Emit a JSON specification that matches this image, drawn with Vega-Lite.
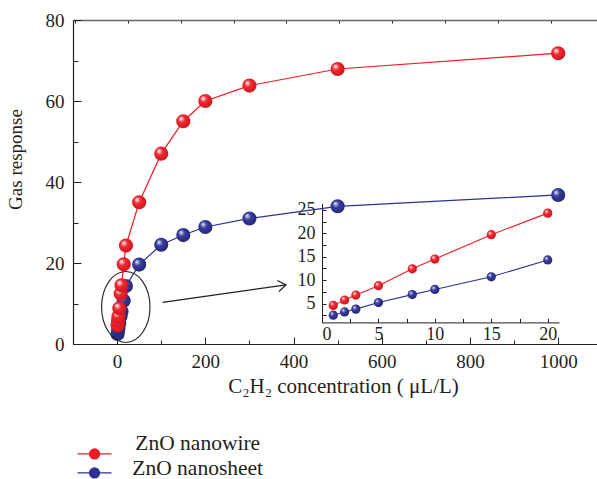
{
  "$schema": "https://vega.github.io/schema/vega-lite/v6.json",
  "width": 524,
  "height": 324,
  "autosize": {"type": "none"},
  "padding": {"left": 73, "top": 20, "right": 0, "bottom": 135},
  "background": "white",
  "datasets": {
    "pts": [
      {"series": "ZnO nanowire", "x": 1, "y": 4.6},
      {"series": "ZnO nanowire", "x": 2, "y": 5.75},
      {"series": "ZnO nanowire", "x": 3, "y": 6.8},
      {"series": "ZnO nanowire", "x": 5, "y": 8.8},
      {"series": "ZnO nanowire", "x": 8, "y": 12.4},
      {"series": "ZnO nanowire", "x": 10, "y": 14.5},
      {"series": "ZnO nanowire", "x": 15, "y": 19.7},
      {"series": "ZnO nanowire", "x": 20, "y": 24.3},
      {"series": "ZnO nanowire", "x": 50, "y": 35},
      {"series": "ZnO nanowire", "x": 100, "y": 47},
      {"series": "ZnO nanowire", "x": 150, "y": 55},
      {"series": "ZnO nanowire", "x": 200, "y": 60},
      {"series": "ZnO nanowire", "x": 300, "y": 63.8},
      {"series": "ZnO nanowire", "x": 500, "y": 67.9},
      {"series": "ZnO nanowire", "x": 1000, "y": 71.8},
      {"series": "ZnO nanosheet", "x": 1, "y": 2.5},
      {"series": "ZnO nanosheet", "x": 2, "y": 3.2},
      {"series": "ZnO nanosheet", "x": 3, "y": 3.8},
      {"series": "ZnO nanosheet", "x": 5, "y": 5.2},
      {"series": "ZnO nanosheet", "x": 8, "y": 6.9},
      {"series": "ZnO nanosheet", "x": 10, "y": 8.0},
      {"series": "ZnO nanosheet", "x": 15, "y": 10.7},
      {"series": "ZnO nanosheet", "x": 20, "y": 14.3},
      {"series": "ZnO nanosheet", "x": 50, "y": 19.6},
      {"series": "ZnO nanosheet", "x": 100, "y": 24.5},
      {"series": "ZnO nanosheet", "x": 150, "y": 26.9},
      {"series": "ZnO nanosheet", "x": 200, "y": 28.9},
      {"series": "ZnO nanosheet", "x": 300, "y": 31.0},
      {"series": "ZnO nanosheet", "x": 500, "y": 34.0},
      {"series": "ZnO nanosheet", "x": 1000, "y": 36.8}
    ]
  },
  "config": {
    "view": {"stroke": null},
    "font": "Liberation Serif",
    "axis": {
      "grid": false,
      "labelFont": "Liberation Serif",
      "titleFont": "Liberation Serif",
      "labelColor": "#231f20",
      "titleColor": "#231f20",
      "titleFontWeight": "normal",
      "domainColor": "#231f20",
      "tickColor": "#231f20",
      "labelFontSize": 19,
      "titleFontSize": 21,
      "domainWidth": 1.2,
      "tickWidth": 1
    },
    "legend": {"labelFont": "Liberation Serif", "labelFontSize": 21.5, "labelColor": "#231f20", "title": null, "padding": 0}
  },
  "resolve": {"scale": {"x": "independent", "y": "independent"}},
  "layer": [
    {
      "resolve": {"axis": {"x": "independent", "y": "independent"}},
      "layer": [
        {
          "data": {"name": "pts"},
          "transform": [{"filter": "datum.series === 'ZnO nanosheet'"}],
          "mark": {"type": "line", "strokeWidth": 1.2, "stroke": "#2e3192"},
          "encoding": {
            "x": {"field": "x", "type": "quantitative",
              "scale": {"domain": [-100, 1088], "nice": false, "zero": false},
              "axis": {"orient": "bottom", "values": [0, 200, 400, 600, 800, 1000], "format": "d", "tickSize": -7, "labelPadding": 15,
                "labelFont": "Liberation Serif", "titleFont": "Liberation Serif",
                "title": "C₂H₂ concentration ( μL/L)", "titleX": 270, "titleY": 42, "titleBaseline": "middle", "titleAlign": "center", "titleAnchor": "start"}},
            "y": {"field": "y", "type": "quantitative",
              "scale": {"domain": [0, 80], "nice": false},
              "axis": {"orient": "left", "values": [0, 20, 40, 60, 80], "tickSize": -8, "labelPadding": 17,
                "labelFont": "Liberation Serif", "titleFont": "Liberation Serif",
                "title": "Gas response", "titleFontSize": 19, "titleX": -58, "titleY": 139, "titleBaseline": "middle", "titleAlign": "center", "titleAnchor": "start", "titleAngle": -90}},
            "opacity": {"field": "series", "type": "nominal",
              "scale": {"domain": ["ZnO nanosheet"], "range": [1]},
              "legend": {
                "orient": "none", "legendX": 10.8, "legendY": 442.2, "direction": "vertical", "title": null, "padding": 0,
                "symbolType": "M -2 0 L 2 0 M 0.59 0 A 0.59 0.59 0 1 1 -0.59 0 A 0.59 0.59 0 1 1 0.59 0 Z",
                "symbolSize": 289, "symbolStrokeWidth": 1.2, "symbolStrokeColor": "#2e3192", "symbolFillColor": "#2e3192",
                "labelFont": "Liberation Serif", "labelFontSize": 21.5, "labelColor": "#231f20",
                "labelOffset": 27, "labelBaseline": "alphabetic",
                "encode": {
                  "symbols": {"update": {"fill": {"value": "#2e3192"}, "stroke": {"value": "#2e3192"}, "opacity": {"value": 1}}},
                  "labels": {"update": {"dy": {"value": 2.5}}}
                }
              }}
          }
        },
        {
          "data": {"name": "pts"},
          "transform": [{"filter": "datum.series === 'ZnO nanowire'"}],
          "mark": {"type": "line", "strokeWidth": 1.2},
          "encoding": {
            "x": {"field": "x", "type": "quantitative", "axis": null},
            "y": {"field": "y", "type": "quantitative", "axis": null},
            "stroke": {"field": "series", "type": "nominal",
              "scale": {"domain": ["ZnO nanowire"], "range": ["#ed1c24"]},
              "legend": {
                "orient": "none", "legendX": 10.8, "legendY": 423.2, "direction": "vertical", "title": null, "padding": 0,
                "symbolType": "M -2 0 L 2 0 M 0.59 0 A 0.59 0.59 0 1 1 -0.59 0 A 0.59 0.59 0 1 1 0.59 0 Z",
                "symbolSize": 289, "symbolStrokeWidth": 1.2, "symbolFillColor": "#ed1c24",
                "labelFont": "Liberation Serif", "labelFontSize": 21.5, "labelColor": "#231f20",
                "labelOffset": 30, "labelBaseline": "alphabetic",
                "encode": {
                  "symbols": {"update": {"fill": {"value": "#ed1c24"}, "opacity": {"value": 1}}},
                  "labels": {"update": {"dy": {"value": -4}}}
                }
              }}
          }
        },
        {
          "data": {"name": "pts"},
          "transform": [{"filter": "datum.series === 'ZnO nanosheet'"}],
          "mark": {"type": "circle", "size": 200, "opacity": 1,
            "fill": {"gradient": "radial", "x1": 0.33, "y1": 0.3, "r1": 0, "x2": 0.45, "y2": 0.45, "r2": 0.6,
              "stops": [{"offset": 0, "color": "#ffffff"}, {"offset": 0.15, "color": "#a5a7d6"}, {"offset": 0.4, "color": "#383ca0"}, {"offset": 1, "color": "#23266c"}]}},
          "encoding": {
            "x": {"field": "x", "type": "quantitative",
              "axis": {"orient": "bottom", "values": [100, 300, 500, 700, 900], "tickSize": -4, "labels": false, "domain": false, "title": null}},
            "y": {"field": "y", "type": "quantitative",
              "axis": {"orient": "left", "values": [10, 30, 50, 70], "tickSize": -5, "labels": false, "domain": false, "title": null}}
          }
        },
        {
          "data": {"name": "pts"},
          "transform": [{"filter": "datum.series === 'ZnO nanowire'"}],
          "mark": {"type": "circle", "size": 200, "opacity": 1,
            "fill": {"gradient": "radial", "x1": 0.33, "y1": 0.3, "r1": 0, "x2": 0.45, "y2": 0.45, "r2": 0.6,
              "stops": [{"offset": 0, "color": "#ffffff"}, {"offset": 0.15, "color": "#f7b3b5"}, {"offset": 0.4, "color": "#ee2a32"}, {"offset": 1, "color": "#cf121a"}]}},
          "encoding": {
            "x": {"field": "x", "type": "quantitative",
              "axis": {"orient": "top", "values": [-96, 24, 144, 264, 384, 504, 624, 744, 864, 984], "tickSize": -3, "labels": false, "domainColor": "#666666", "domainWidth": 1.6, "title": null}},
            "y": {"field": "y", "type": "quantitative", "axis": null}
          }
        },
        {
          "data": {"values": [{"x": 19.7, "y": 9.15}]},
          "mark": {"type": "point", "filled": false, "opacity": 1, "stroke": "#231f20", "strokeWidth": 1.1, "size": 2343,
            "shape": "M -1 0 A 1 1.467 0 1 0 1 0 A 1 1.467 0 1 0 -1 0 Z"},
          "encoding": {
            "x": {"field": "x", "type": "quantitative", "axis": null},
            "y": {"field": "y", "type": "quantitative", "axis": null}
          }
        },
        {
          "data": {"values": [{"x": 103, "y": 10.3, "x2": 383, "y2": 14.6}]},
          "mark": {"type": "rule", "stroke": "#231f20", "strokeWidth": 1.2},
          "encoding": {
            "x": {"field": "x", "type": "quantitative", "axis": null},
            "y": {"field": "y", "type": "quantitative", "axis": null},
            "x2": {"field": "x2"},
            "y2": {"field": "y2"}
          }
        },
        {
          "data": {"values": [{"x": 383, "y": 14.6}]},
          "mark": {"type": "point", "filled": false, "opacity": 1, "stroke": "#231f20", "strokeWidth": 1.2, "size": 256, "angle": -8,
            "shape": "M -1 -0.7 L 0 0 L -1 0.7"},
          "encoding": {
            "x": {"field": "x", "type": "quantitative", "axis": null},
            "y": {"field": "y", "type": "quantitative", "axis": null}
          }
        }
      ]
    },
    {
      "resolve": {"axis": {"x": "independent", "y": "independent"}},
      "layer": [
        {
          "data": {"name": "pts"},
          "transform": [{"filter": "datum.x <= 20 && datum.series === 'ZnO nanosheet'"}],
          "mark": {"type": "line", "strokeWidth": 1.1, "stroke": "#2e3192"},
          "encoding": {
            "x": {"field": "x", "type": "quantitative",
              "scale": {"domain": [0, 21], "range": [249, 486], "nice": false, "zero": false},
              "axis": {"orient": "bottom", "offset": -21.6, "values": [0, 2.5, 5, 7.5, 10, 12.5, 15, 17.5, 20],
                "labelFont": "Liberation Serif",
                "labelExpr": "datum.value % 5 === 0 ? datum.label : ''", "tickSize": -4, "labelPadding": 7, "labelFontSize": 18, "title": null, "domainWidth": 1}},
            "y": {"field": "y", "type": "quantitative",
              "scale": {"domain": [0.9, 26.4], "range": [302.7, 183.3], "nice": false, "zero": false},
              "axis": {"orient": "left", "offset": -249, "values": [2.5, 5, 7.5, 10, 12.5, 15, 17.5, 20, 22.5, 25],
                "labelFont": "Liberation Serif",
                "labelExpr": "datum.value % 5 === 0 ? datum.label : ''", "tickSize": -4, "labelPadding": 11, "labelFontSize": 18, "title": null, "domainWidth": 1}}
          }
        },
        {
          "data": {"name": "pts"},
          "transform": [{"filter": "datum.x <= 20 && datum.series === 'ZnO nanowire'"}],
          "mark": {"type": "line", "strokeWidth": 1.1, "stroke": "#ed1c24"},
          "encoding": {
            "x": {"field": "x", "type": "quantitative", "axis": null},
            "y": {"field": "y", "type": "quantitative", "axis": null}
          }
        },
        {
          "data": {"name": "pts"},
          "transform": [{"filter": "datum.x <= 20 && datum.series === 'ZnO nanosheet'"}],
          "mark": {"type": "circle", "size": 85, "opacity": 1,
            "fill": {"gradient": "radial", "x1": 0.33, "y1": 0.3, "r1": 0, "x2": 0.45, "y2": 0.45, "r2": 0.6,
              "stops": [{"offset": 0, "color": "#ffffff"}, {"offset": 0.15, "color": "#a5a7d6"}, {"offset": 0.4, "color": "#383ca0"}, {"offset": 1, "color": "#23266c"}]}},
          "encoding": {
            "x": {"field": "x", "type": "quantitative", "axis": null},
            "y": {"field": "y", "type": "quantitative", "axis": null}
          }
        },
        {
          "data": {"name": "pts"},
          "transform": [{"filter": "datum.x <= 20 && datum.series === 'ZnO nanowire'"}],
          "mark": {"type": "circle", "size": 85, "opacity": 1,
            "fill": {"gradient": "radial", "x1": 0.33, "y1": 0.3, "r1": 0, "x2": 0.45, "y2": 0.45, "r2": 0.6,
              "stops": [{"offset": 0, "color": "#ffffff"}, {"offset": 0.15, "color": "#f7b3b5"}, {"offset": 0.4, "color": "#ee2a32"}, {"offset": 1, "color": "#cf121a"}]}},
          "encoding": {
            "x": {"field": "x", "type": "quantitative", "axis": null},
            "y": {"field": "y", "type": "quantitative", "axis": null}
          }
        }
      ]
    }
  ]
}
